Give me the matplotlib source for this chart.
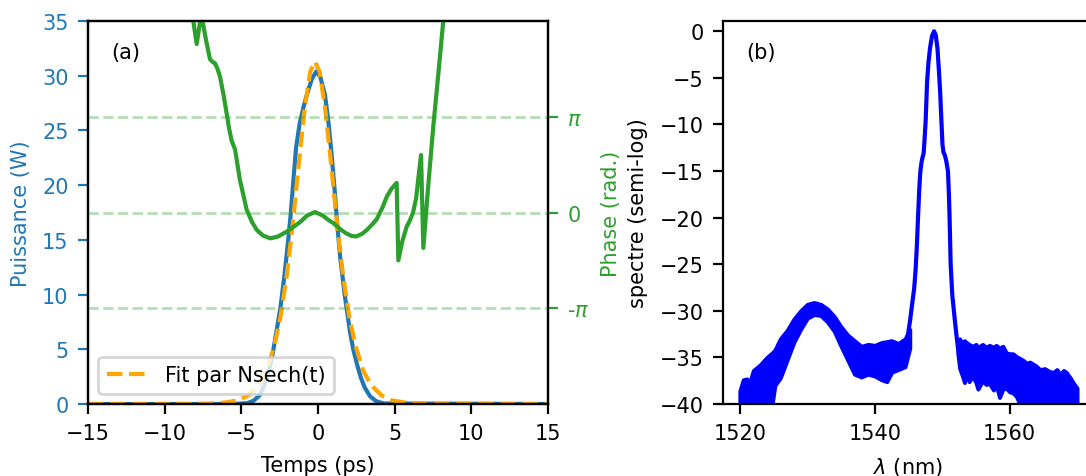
import matplotlib

matplotlib.use("Agg")

import matplotlib.pyplot as plt
import numpy as np

plt.rcParams["font.size"] = 7.5

# --- (a) pulse : measured power (W) vs time (ps)
t_pulse = [-15, -5.5, -4.6, -4.2, -3.8, -3.5, -3.2, -3.0, -2.7, -2.45, -2.2, -2.0,
           -1.8, -1.6, -1.43, -1.2, -0.95, -0.7, -0.4, -0.1, 0.15, 0.45, 0.67,
           0.89, 1.1, 1.27, 1.45, 1.75, 2.1, 2.3, 2.55, 2.8, 3.05, 3.4, 3.8, 4.3, 15]
p_pulse = [0, 0, 0.08, 0.3, 0.8, 1.7, 3.0, 4.2, 6.7, 8.8, 11.6, 14.2,
           17.0, 20.5, 23.4, 25.6, 27.1, 28.4, 29.7, 30.4, 29.9, 28.3, 25.9,
           22.8, 19.3, 16.2, 13.4, 9.9, 6.5, 5.0, 3.6, 2.4, 1.5, 0.7, 0.25, 0.05, 0]

# Nsech fit
t_fit = [-15, -8.2, -7.05, -6.05, -5.15, -4.55, -3.85, -3.35, -2.85, -2.45, -2.05,
         -1.65, -1.25, -0.85, -0.5, -0.2, 0.1, 0.45, 0.85, 1.25, 1.65, 2.05,
         2.45, 2.95, 3.45, 4.15, 4.75, 5.65, 6.65, 7.8, 15]
p_fit = [0, 0.01, 0.04, 0.14, 0.35, 0.79, 1.75, 3.06, 5.3, 7.9, 11.6,
         16.4, 22.0, 27.2, 30.4, 31.3, 30.4, 27.2, 22.0, 16.4, 11.6, 7.9,
         5.3, 3.06, 1.75, 0.79, 0.35, 0.14, 0.04, 0.01, 0]

# phase (in units of pi)
t_phase = [-8.3, -8.13, -7.91, -7.7, -7.55, -7.3, -7.04, -6.85, -6.72, -6.55, -6.39,
           -6.15, -5.96, -5.8, -5.63, -5.41, -5.25, -5.09, -4.85, -4.65, -4.3,
           -4.0, -3.6, -3.1, -2.6, -2.04, -1.6, -1.17, -0.7, -0.2, 0.3, 0.7,
           1.0, 1.5, 1.87, 2.2, 2.5, 2.9, 3.2, 3.5, 3.83, 4.2, 4.5, 4.8, 5.13,
           5.24, 5.5, 5.78, 6.0, 6.2, 6.4, 6.54, 6.72, 6.87, 7.2, 7.52, 7.85,
           8.17, 8.3]
phase_pi = [2.2, 2.0, 1.76, 1.98, 2.02, 1.8, 1.60, 1.57, 1.56, 1.5, 1.42,
            1.22, 1.04, 0.88, 0.75, 0.66, 0.5, 0.34, 0.17, 0.03, -0.1,
            -0.18, -0.24, -0.27, -0.25, -0.2, -0.15, -0.1, -0.03, 0.005, -0.03, -0.08,
            -0.11, -0.18, -0.22, -0.245, -0.25, -0.22, -0.18, -0.13, -0.07, 0.05, 0.17, 0.25, 0.31,
            -0.50, -0.3, -0.15, -0.08, 0.0, 0.15, 0.35, 0.60, -0.37, 0.3, 0.9, 1.45,
            2.0, 2.2]

# --- (b) spectrum (dB, normalised)
lam_peak = [1544.9, 1545.25, 1545.58, 1545.85, 1546.07, 1546.25, 1546.42, 1546.6,
            1546.77, 1546.95, 1547.1, 1547.25, 1547.4, 1547.56, 1547.76, 1547.95,
            1548.2, 1548.5, 1548.8, 1549.05, 1549.3, 1549.5, 1549.7, 1549.88,
            1550.05, 1550.2, 1550.4, 1550.6, 1550.86, 1551.0, 1551.1, 1551.26,
            1551.5, 1551.85, 1552.1, 1552.35]
spec_peak = [-32.7, -31.0, -29.1, -27.6, -25.5, -23.0, -20.0, -17.0,
             -15.0, -14.0, -13.5, -13.1, -11.5, -9.5, -5.5, -3.5,
             -1.8, -0.5, 0, -0.4, -1.8, -4.0, -6.5, -9.5,
             -12.2, -13.0, -13.3, -13.9, -15.0, -17.5, -20.0, -25.0,
             -28.3, -30.8, -32.5, -34.0]

lam_left = [1520, 1520.5, 1521, 1521.5, 1522, 1523, 1524, 1524.8, 1525.2, 1526, 1527,
            1528, 1529, 1530, 1531, 1532, 1533, 1534, 1535, 1536, 1537, 1538,
            1539, 1540, 1541, 1541.8, 1542.5, 1543.5, 1544.5, 1545.2]
left_hi = [-38.6, -37.4, -37.3, -37.6, -36.4, -35.8, -35.0, -34.5, -34.2, -33.0, -32.1,
           -30.9, -30.0, -29.3, -29.1, -29.3, -29.8, -30.6, -31.7, -32.6, -33.2, -33.8,
           -33.6, -33.7, -33.4, -33.3, -33.2, -33.5, -33.0, -32.0]
left_lo = [-40, -40, -40, -40, -40, -40, -40, -40, -38.0, -37.2, -35.3,
           -33.4, -32.0, -30.8, -30.4, -30.5, -31.2, -32.2, -33.8, -35.3, -36.8, -37.1,
           -36.8, -37.0, -37.4, -37.6, -36.6, -36.3, -36.0, -34.0]

lam_right = [1552.3, 1552.6, 1553, 1553.3, 1553.6, 1554, 1554.5, 1555, 1555.3, 1556,
             1556.5, 1557, 1557.6, 1558, 1558.5, 1559, 1559.5, 1560, 1560.5, 1561,
             1561.5, 1562, 1562.5, 1563, 1563.9, 1564.5, 1565.2, 1565.9, 1566.5,
             1567, 1567.5, 1568, 1568.4, 1569, 1569.5, 1570]
right_hi = [-33.3, -33.0, -33.6, -33.2, -33.4, -33.6, -33.8, -33.6, -33.9, -33.6,
            -33.9, -33.7, -33.9, -33.7, -34.0, -33.8, -34.5, -34.6, -34.6, -34.9,
            -35.1, -35.3, -35.6, -35.5, -35.9, -36.3, -36.2, -36.5, -36.6,
            -36.3, -36.8, -36.4, -36.6, -37.2, -37.8, -38.3]
right_lo = [-34.5, -36.2, -37.0, -37.7, -36.8, -37.6, -37.0, -37.7, -38.4, -37.5,
            -37.9, -37.8, -38.5, -37.9, -39.3, -38.4, -38.3, -38.7, -38.8, -39.2,
            -40, -40, -40, -40, -40, -40, -40, -40, -40,
            -40, -40, -40, -40, -40, -40, -40]

fig = plt.figure(figsize=(5.43, 2.385), dpi=200)

# ---------- panel (a)
ax = fig.add_axes([0.0810, 0.1509, 0.4236, 0.8029])
ax.plot(t_pulse, p_pulse, color="tab:blue", linewidth=1.5)
ax.plot(t_fit, p_fit, color="orange", linestyle="--", linewidth=1.5,
        label="Fit par Nsech(t)")
ax.set_xlim(-15, 15)
ax.set_ylim(0, 35)
ax.set_xticks(np.arange(-15, 16, 5))
ax.set_xlabel("Temps (ps)")
ax.set_ylabel("Puissance (W)", color="tab:blue")
ax.tick_params(axis="y", colors="tab:blue")
ax.legend(loc="lower left")
ax.text(0.05, 0.92, "(a)", transform=ax.transAxes, ha="left", va="center")

ax2 = ax.twinx()
for level in (-np.pi, 0, np.pi):
    ax2.axhline(level, color="tab:green", alpha=0.35, linestyle="--", linewidth=1)
ax2.plot(t_phase, np.array(phase_pi) * np.pi, color="tab:green", linewidth=1.5)
ax2.set_ylim(-2 * np.pi, 2 * np.pi)
ax2.set_yticks([-np.pi, 0, np.pi])
ax2.set_yticklabels([r"-$\pi$", "0", r"$\pi$"])
ax2.set_ylabel("Phase (rad.)", color="tab:green")
ax2.tick_params(axis="y", colors="tab:green")

# ---------- panel (b)
bx = fig.add_axes([0.6657, 0.1509, 0.3416, 0.8029])
bx.fill_between(lam_left, left_lo, left_hi, color="blue", linewidth=1.4,
                edgecolor="blue")
bx.fill_between(lam_right, right_lo, right_hi, color="blue", linewidth=1.4,
                edgecolor="blue")
bx.plot(lam_peak, spec_peak, color="blue", linewidth=1.5)
bx.set_xlim(1517.5, 1572.5)
bx.set_ylim(-40, 1.1)
bx.set_xticks([1520, 1540, 1560])
bx.set_yticks(np.arange(-40, 1, 5))
bx.set_xlabel(r"$\lambda$ (nm)")
bx.set_ylabel("spectre (semi-log)")
bx.text(0.062, 0.92, "(b)", transform=bx.transAxes, ha="left", va="center")

fig.savefig("out.png", dpi=200)
